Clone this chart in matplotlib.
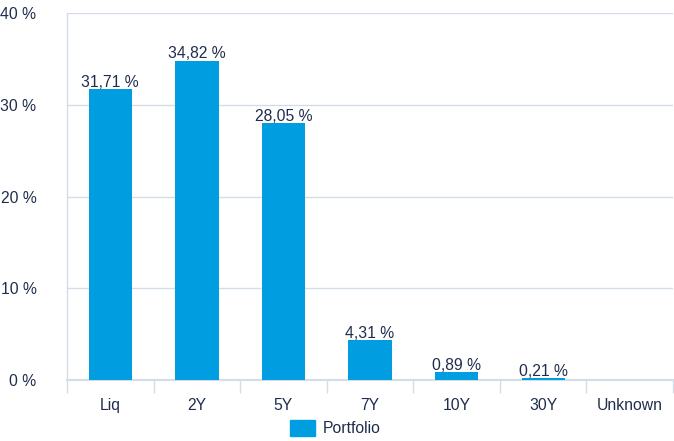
import matplotlib
matplotlib.use("Agg")
import matplotlib.pyplot as plt
import numpy as np

categories = ["Liq", "2Y", "5Y", "7Y", "10Y", "30Y", "Unknown"]
values = [31.71, 34.82, 28.05, 4.31, 0.89, 0.21, 0.0]
labels = ["31,71 %", "34,82 %", "28,05 %", "4,31 %", "0,89 %", "0,21 %", None]
yticks = [0, 10, 20, 30, 40]
ytick_labels = ["0 %", "10 %", "20 %", "30 %", "40 %"]
series_name = "Portfolio"

plt.rcParams['font.family'] = ['Liberation Sans', 'DejaVu Sans']
txt = "#1f2d4d"
grid = "#d3dde9"
bar_c = "#009ee0"
fs = 11.3

fig = plt.figure(figsize=(6.74, 4.41), dpi=100)
ax = fig.add_axes([67/674, 1-380/441, 606/674, 367/441])
x = np.arange(len(categories))
ax.bar(x, values, width=0.5, color=bar_c, zorder=3)
for xi, v, l in zip(x, values, labels):
    if l:
        ax.text(xi, v - 0.1, l, ha="center", va="bottom", fontsize=fs, color=txt, zorder=4)

ax.set_xlim(-0.5, len(categories) - 0.5)
ax.set_ylim(0, 40)
ax.set_yticks(yticks)
ax.set_yticklabels(ytick_labels, fontsize=fs, color=txt)
ax.tick_params(axis="y", length=0, pad=22)
ax.yaxis.grid(True, color=grid, linewidth=1, zorder=0)
ax.set_xticks(x)
ax.set_xticklabels(categories, fontsize=fs, color=txt)
ax.tick_params(axis="x", which="major", length=0, pad=13)
ax.set_xticks(np.arange(-0.5, len(categories) + 0.5, 1), minor=True)
ax.tick_params(axis="x", which="minor", length=9, width=1, color=grid)
for s in ["top", "right"]:
    ax.spines[s].set_visible(False)
ax.spines["left"].set_color(grid)
ax.spines["bottom"].set_color(grid)
ax.spines["left"].set_linewidth(1)
ax.spines["bottom"].set_linewidth(1.5)

from matplotlib.patches import Patch
fig.legend(handles=[Patch(color=bar_c, label=series_name)], loc="center",
           bbox_to_anchor=(335/674, 1-428/441), frameon=False, fontsize=fs,
           handlelength=1.6, handleheight=1.2, handletextpad=0.5, labelcolor=txt)
fig.savefig("out.png", dpi=100)
